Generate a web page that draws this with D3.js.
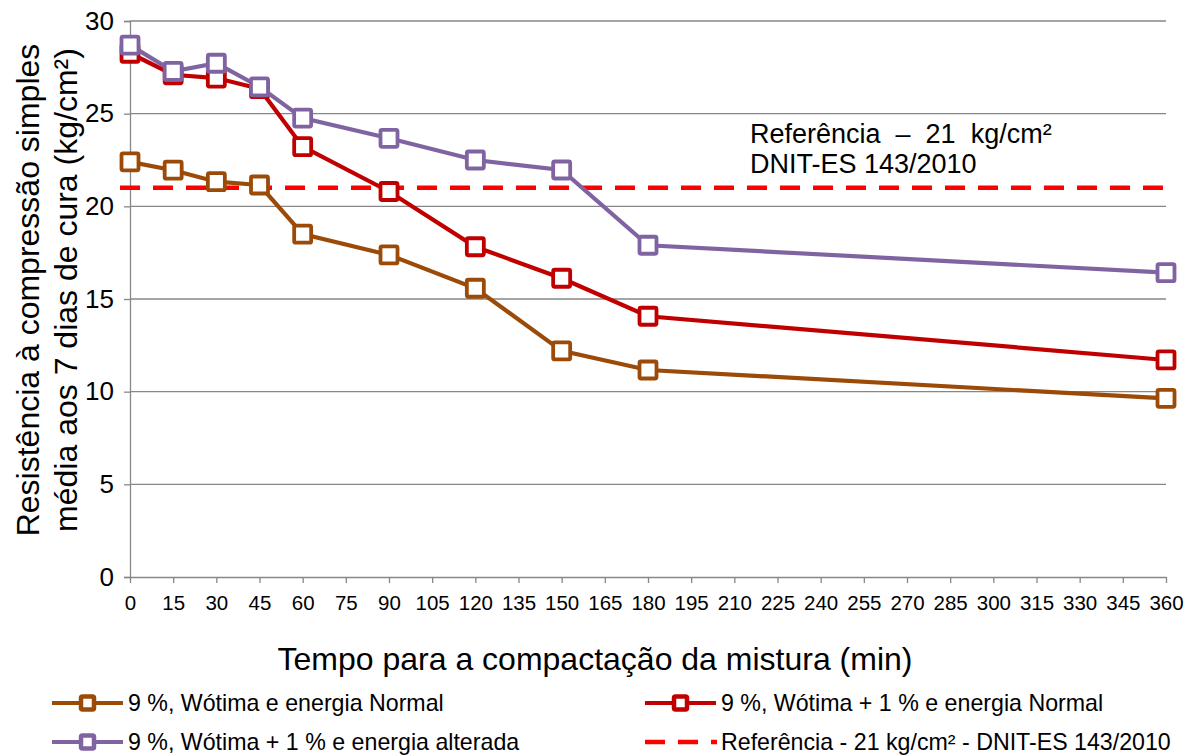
<!DOCTYPE html>
<html><head><meta charset="utf-8">
<script src="https://cdn.jsdelivr.net/npm/d3@7"></script>
<style>body{margin:0;background:#fff;} svg{font-family:"Liberation Sans",Arial,sans-serif;}</style>
</head><body>
<svg id="c" width="1197" height="756"></svg>
<script>
const times = [0, 15, 30, 45, 60, 90, 120, 150, 180, 360];
const seriesNames = ["9 %, Wótima e energia Normal", "9 %, Wótima + 1 % e energia Normal", "9 %, Wótima + 1 % e energia alterada"];
const normal = [22.4, 21.95, 21.33, 21.15, 18.5, 17.38, 15.58, 12.2, 11.17, 9.64];
const plusOne = [28.26, 27.1, 26.92, 26.35, 23.22, 20.8, 17.82, 16.12, 14.07, 11.71];
const altered = [28.7, 27.28, 27.72, 26.45, 24.76, 23.67, 22.5, 21.96, 17.9, 16.42];
const referenceValue = 21;
const referenceLabel = "Referência - 21 kg/cm² - DNIT-ES 143/2010";
const xTicks = d3.range(0, 361, 15);
const yTicks = [0, 5, 10, 15, 20, 25, 30];

const svg = d3.select("#c");
const x = d3.scaleLinear().domain([0, 360]).range([130, 1166]);
const y = d3.scaleLinear().domain([0, 30]).range([577, 21]);
const gridColor = "#878787";
const FF = "Liberation Sans, Arial, sans-serif";

// gridlines
svg.append("g").selectAll("line").data(yTicks.filter(d => d > 0)).join("line")
  .attr("x1", x(0)).attr("x2", x(360)).attr("y1", d => y(d)).attr("y2", d => y(d))
  .attr("stroke", gridColor).attr("stroke-width", 1.3);

// y axis
const yAxis = svg.append("g").attr("transform", `translate(${x(0)},0)`)
  .call(d3.axisLeft(y).tickValues(yTicks).tickSize(6).tickPadding(10));
yAxis.select(".domain").attr("stroke", gridColor).attr("stroke-width", 1.3);
yAxis.selectAll(".tick line").attr("stroke", gridColor).attr("stroke-width", 1.3);
yAxis.selectAll("text").attr("font-size", 26).attr("fill", "#000").attr("font-family", FF);

// x axis
const xAxis = svg.append("g").attr("transform", `translate(0,${y(0)})`)
  .call(d3.axisBottom(x).tickValues(xTicks).tickSize(6).tickPadding(12).tickSizeOuter(0));
xAxis.select(".domain").attr("stroke", gridColor).attr("stroke-width", 1.3);
xAxis.selectAll(".tick line").attr("stroke", gridColor).attr("stroke-width", 1.3);
xAxis.selectAll("text").attr("font-size", 20.5).attr("fill", "#000").attr("font-family", FF);

// reference line
svg.append("line")
  .attr("x1", x(0) - 10).attr("x2", x(360)).attr("y1", y(referenceValue)).attr("y2", y(referenceValue))
  .attr("stroke", "#FF0000").attr("stroke-width", 4.5).attr("stroke-dasharray", "20,13");

const series = [
  {name: seriesNames[0], values: normal, color: "#9C4A07"},
  {name: seriesNames[2], values: altered, color: "#8064A2"},
  {name: seriesNames[1], values: plusOne, color: "#C00000"}
];
const drawOrder = [series[0], series[2], series[1]];
const line = d3.line().x((d, i) => x(times[i])).y(d => y(d));
drawOrder.forEach(s => {
  svg.append("path").datum(s.values).attr("d", line)
    .attr("fill", "none").attr("stroke", s.color).attr("stroke-width", 4.2);
  svg.append("g").selectAll("rect").data(s.values).join("rect")
    .attr("x", (d, i) => x(times[i]) - 8.5).attr("y", d => y(d) - 8.5)
    .attr("width", 17).attr("height", 17).attr("rx", 1.5)
    .attr("fill", "#fff").attr("stroke", s.color).attr("stroke-width", 3.8);
});

// annotation
svg.append("text").attr("x", 750).attr("y", 143).attr("font-size", 27).attr("xml:space", "preserve")
  .text("Referência  –  21  kg/cm²");
svg.append("text").attr("x", 750).attr("y", 173).attr("font-size", 27)
  .text("DNIT-ES 143/2010");

// axis titles
svg.append("text").attr("x", 595).attr("y", 670).attr("text-anchor", "middle").attr("font-size", 32)
  .text("Tempo para a compactação da mistura (min)");
const yt = svg.append("text").attr("transform", "translate(39,290) rotate(-90)").attr("text-anchor", "middle").attr("font-size", 32);
yt.append("tspan").attr("x", 0).attr("dy", 0).text("Resistência à compressão simples");
yt.append("tspan").attr("x", 0).attr("dy", 38).text("média aos 7 dias de cura (kg/cm²)");

// legend
const legendItems = [
  {s: series[0], lx: 52, ly: 703},
  {s: series[2], lx: 645, ly: 703},
  {s: series[1], lx: 52, ly: 742}
];
legendItems.forEach(it => {
  const g = svg.append("g");
  g.append("line").attr("x1", it.lx).attr("x2", it.lx + 71).attr("y1", it.ly).attr("y2", it.ly)
    .attr("stroke", it.s.color).attr("stroke-width", 4.2);
  g.append("rect").attr("x", it.lx + 29).attr("y", it.ly - 6.5).attr("width", 13).attr("height", 13).attr("rx", 1.5)
    .attr("fill", "#fff").attr("stroke", it.s.color).attr("stroke-width", 4.5);
  g.append("text").attr("x", it.lx + 76).attr("y", it.ly + 8).attr("font-size", 23.2).text(it.s.name);
});
const rg = svg.append("g");
rg.append("line").attr("x1", 645).attr("x2", 717).attr("y1", 742).attr("y2", 742)
  .attr("stroke", "#FF0000").attr("stroke-width", 4.5).attr("stroke-dasharray", "20,13");
rg.append("text").attr("x", 721).attr("y", 750).attr("font-size", 23.2).text(referenceLabel);
</script>
</body></html>
